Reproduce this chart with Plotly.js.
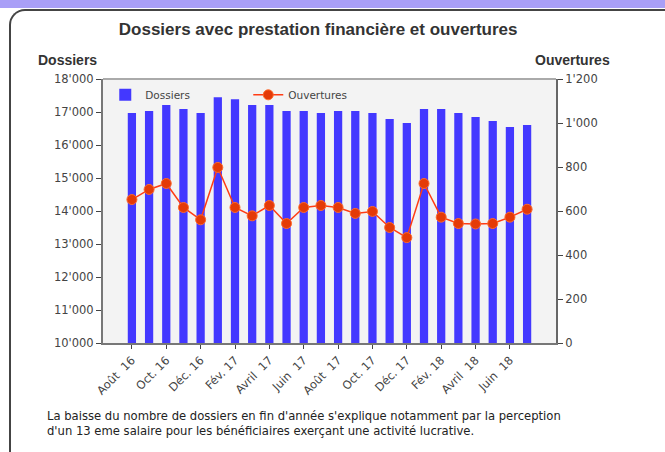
<!DOCTYPE html>
<html>
<head>
<meta charset="utf-8">
<script src="https://cdn.plot.ly/plotly-3.0.1.min.js"></script>
<style>
  html, body { margin:0; padding:0; background:#fff; }
  #wrap { position:relative; width:665px; height:452px; overflow:hidden; background:#fff; }
  #band { position:absolute; left:0; top:0; width:665px; height:8px; background:#a99ff7; }
  #frame { position:absolute; left:9px; top:9px; width:700px; height:470px; border-left:2px solid #444; border-top:2px solid #444; border-top-left-radius:16px; }
  #chart { position:absolute; left:0; top:0; width:665px; height:452px; }
</style>
</head>
<body>
<div id="wrap">
  <div id="band"></div>
  <div id="frame"></div>
  <div id="chart"></div>
</div>
<script>
const months = ['Août 16','Sept. 16','Oct. 16','Nov. 16','Déc. 16','Janv. 17','Fév. 17','Mars 17','Avril 17','Mai 17','Juin 17','Juil. 17',
                'Août 17','Sept. 17','Oct. 17','Nov. 17','Déc. 17','Janv. 18','Fév. 18','Mars 18','Avril 18','Mai 18','Juin 18','Juil. 18'];
const dossiers = [16970,17030,17210,17090,16970,17450,17390,17210,17210,17030,17030,16970,
                  17030,17030,16970,16790,16665,17090,17090,16970,16850,16730,16545,16605];
const ouvertures = [652,698,725,616,560,798,616,578,625,543,616,625,
                    616,589,598,525,479,725,572,543,541,543,572,608];
const tickMonths = ['Août 16','Oct. 16','Déc. 16','Fév. 17','Avril 17','Juin 17','Août 17','Oct. 17','Déc. 17','Fév. 18','Avril 18','Juin 18'];
const tickLabels = ['Août  16','Oct. 16','Déc. 16','Fév. 17','Avril  17','Juin  17','Août  17','Oct. 17','Déc. 17','Fév. 18','Avril  18','Juin  18'];

const FONT = 'DejaVu Sans, Verdana, sans-serif';
const BFONT = 'Liberation Sans, Arial, sans-serif';

const traces = [
  { type:'bar', name:'Dossiers', x:months, y:dossiers, marker:{color:'#4338ff'}, yaxis:'y' },
  { type:'scatter', mode:'lines+markers', name:'Ouvertures', x:months, y:ouvertures, yaxis:'y2',
    line:{color:'#ff3c14', width:1.5}, marker:{color:'#e43a08', size:10, line:{color:'#ff6a2a', width:1}} }
];

const layout = {
  width:665, height:452,
  margin:{l:103, r:109, t:79, b:109},
  paper_bgcolor:'rgba(0,0,0,0)', plot_bgcolor:'#f3f3f3',
  separators:".'",
  font:{family:FONT, size:11.5, color:'#444'},
  showlegend:true,
  bargap:0.52,
  title:{text:'Dossiers avec prestation financière et ouvertures', font:{family:BFONT, size:17, color:'#333', weight:'bold'},
         x:0.475, xanchor:'center', xref:'paper', y:1-29/452, yanchor:'middle', yref:'container'},
  legend:{orientation:'h', x:0.005, y:0.995, xanchor:'left', yanchor:'top', bgcolor:'rgba(0,0,0,0)',
          font:{family:FONT, size:10.5, color:'#444'}, entrywidth:98, itemwidth:30},
  xaxis:{type:'category', tickvals:tickMonths, ticktext:tickLabels, tickangle:-45,
         showline:true, linecolor:'#777', linewidth:2, ticks:'outside', ticklen:4, tickcolor:'#444',
         showgrid:false, zeroline:false, tickfont:{family:FONT, size:11.5, color:'#444'}},
  yaxis:{range:[10000,18000], dtick:1000, tick0:10000, tickformat:',d', showline:true, linecolor:'#777', linewidth:2,
         ticks:'outside', ticklen:5, tickcolor:'#444', showgrid:false, zeroline:false, tickfont:{family:FONT, size:11.5, color:'#444'}},
  yaxis2:{range:[0,1200], dtick:200, tick0:0, tickformat:',d', overlaying:'y', side:'right', showline:true, linecolor:'#666', linewidth:2,
          ticks:'outside', ticklen:5, tickcolor:'#444', showgrid:false, zeroline:false, tickfont:{family:FONT, size:11.5, color:'#444'}},
  shapes:[
    {type:'line', xref:'paper', yref:'paper', x0:0, x1:1, y0:1, y1:1, line:{color:'#aaa', width:2}}
  ],
  annotations:[
    {text:'<b>Dossiers</b>', xref:'paper', yref:'paper', x:-0.148, y:1+(79-60)/264, xanchor:'left', yanchor:'middle', showarrow:false,
     font:{family:BFONT, size:14, color:'#333'}},
    {text:'<b>Ouvertures</b>', xref:'paper', yref:'paper', x:1+(612-556)/453, y:1+(79-60)/264, xanchor:'right', yanchor:'middle', showarrow:false,
     font:{family:BFONT, size:14, color:'#333'}},
    {text:"La baisse du nombre de dossiers en fin d'année s'explique notamment par la perception<br>d'un 13 eme salaire pour les bénéficiaires exerçant une activité lucrative.",
     xref:'paper', yref:'paper', x:(45-103)/453, y:-(407-343)/264, xanchor:'left', yanchor:'top', align:'left', showarrow:false,
     font:{family:FONT, size:11.6, color:'#222'}}
  ]
};

Plotly.newPlot('chart', traces, layout, {displayModeBar:false, staticPlot:true});
</script>
</body>
</html>
